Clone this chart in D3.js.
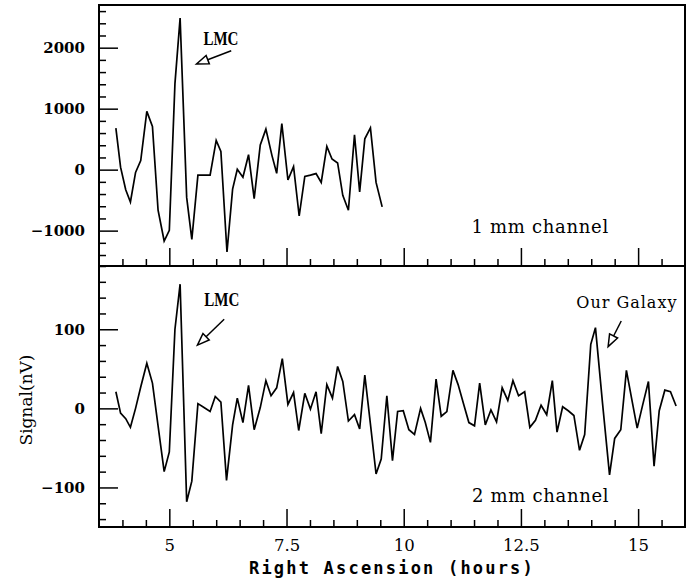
<!DOCTYPE html>
<html>
<head>
<meta charset="utf-8">
<script src="https://cdn.jsdelivr.net/npm/d3@7"></script>
<style>
  body { margin: 0; background: #fff; }
  svg { display: block; }
  .tick line { stroke: #000; stroke-width: 1.5; }
  .tick text { font-family: "DejaVu Serif", serif; font-size: 15px; font-weight: bold; fill: #000; }
  .xaxis .tick text { font-size: 16.5px; font-weight: normal; }
</style>
</head>
<body>
<svg id="chart"></svg>
<script>
// 1 mm channel (hours, nV)
const raTop = [3.86, 3.96, 4.07, 4.17, 4.28, 4.39, 4.52, 4.64, 4.76, 4.89,
  5.00, 5.12, 5.23, 5.37, 5.48, 5.61, 5.74, 5.87, 6.00, 6.10,
  6.23, 6.35, 6.45, 6.57, 6.69, 6.81, 6.94, 7.06, 7.19, 7.29,
  7.40, 7.53, 7.65, 7.77, 7.89, 8.01, 8.13, 8.24, 8.36, 8.47,
  8.59, 8.70, 8.82, 8.95, 9.06, 9.17, 9.29, 9.41, 9.54];
const sigTop = [680, 40, -330, -530, -45, 150, 955, 710, -665, -1170,
  -995, 1410, 2485, -455, -1145, -90, -90, -90, 480, 300,
  -1350, -320, 5, -125, 245, -475, 405, 665, 230, -60,
  755, -170, 50, -760, -110, -90, -65, -210, 380, 175,
  110, -420, -665, 570, -365, 505, 685, -210, -610];

// 2 mm channel (hours, nV)
const raBot = [3.86, 3.96, 4.07, 4.17, 4.28, 4.39, 4.52, 4.64, 4.76, 4.89,
  5.00, 5.12, 5.23, 5.37, 5.48, 5.61, 5.74, 5.87, 5.98, 6.10,
  6.22, 6.35, 6.45, 6.57, 6.69, 6.81, 6.94, 7.06, 7.17, 7.29,
  7.41, 7.53, 7.65, 7.76, 7.89, 8.01, 8.13, 8.24, 8.36, 8.48,
  8.59, 8.70, 8.82, 8.95, 9.06, 9.17, 9.29, 9.41, 9.52, 9.64,
  9.76, 9.87, 9.99, 10.11, 10.23, 10.36, 10.46, 10.57, 10.69, 10.80,
  10.92, 11.05, 11.16, 11.28, 11.39, 11.51, 11.62, 11.74, 11.86, 11.98,
  12.10, 12.22, 12.33, 12.45, 12.58, 12.69, 12.81, 12.93, 13.05, 13.17,
  13.27, 13.39, 13.51, 13.63, 13.75, 13.86, 13.99, 14.09, 14.24, 14.39,
  14.50, 14.63, 14.75, 14.86, 14.98, 15.10, 15.22, 15.34, 15.45, 15.57,
  15.69, 15.81];
const sigBot = [21, -6, -13, -24, 0, 27, 57, 32, -22, -80,
  -55, 100, 157, -118, -92, 6, 1, -4, 15, 8,
  -91, -21, 13, -18, 29, -27, 1, 35, 16, 26,
  63, 5, 20, -28, 19, -1, 21, -32, 30, 13,
  53, 34, -16, -8, -26, 42, -20, -83, -64, 16,
  -66, -4, -3, -27, -33, 0, -18, -43, 37, -10,
  -4, 48, 30, 5, -18, -22, 32, -21, -2, -17,
  26, 10, 35, 16, 21, -24, -15, 4, -8, 35,
  -30, 2, -3, -9, -53, -33, 81, 102, 7, -84,
  -38, -27, 48, 13, -25, 5, 34, -73, -3, 23,
  21, 3];

const xTicks = [5, 7.5, 10, 12.5, 15];
const topTicks = [-1000, 0, 1000, 2000];
const botTicks = [-100, 0, 100];

const width = 689, height = 580;
const plotLeft = 99, plotRight = 685, plotTop = 5, plotMid = 266, plotBottom = 527;

const svg = d3.select("#chart")
    .attr("width", width)
    .attr("height", height);

const x = d3.scaleLinear().domain([3.5, 16]).range([plotLeft, plotRight]);
const yTop = d3.scaleLinear().domain([-1580, 2700]).range([plotMid, plotTop]);
const yBot = d3.scaleLinear().domain([-150, 180]).range([plotBottom, plotMid]);

function drawPanel(y, ys, yMinor, yBase, showLabels, ras, sigs) {
    // minor then major ticks on the left, pointing inward
    svg.append("g")
        .attr("transform", `translate(${plotLeft},0)`)
        .call(d3.axisLeft(y).tickValues(yMinor).tickSize(-7).tickFormat(""))
        .call(g => g.select(".domain").remove());
    svg.append("g")
        .attr("transform", `translate(${plotLeft},0)`)
        .call(d3.axisLeft(y).tickValues(ys).tickSize(-19).tickPadding(14).tickFormat(d3.format("d")))
        .call(g => g.select(".domain").remove());

    const xMinor = d3.range(4, 16, 0.5).filter(v => !xTicks.includes(v));
    svg.append("g")
        .attr("transform", `translate(0,${yBase})`)
        .call(d3.axisBottom(x).tickValues(xMinor).tickSize(-7).tickFormat(""))
        .call(g => g.select(".domain").remove());
    svg.append("g")
        .attr("class", "xaxis")
        .attr("transform", `translate(0,${yBase})`)
        .call(d3.axisBottom(x).tickValues(xTicks).tickSize(-18).tickPadding(12)
            .tickFormat(showLabels ? d3.format("") : ""))
        .call(g => g.select(".domain").remove());

    const line = d3.line()
        .x((d, i) => x(ras[i]))
        .y(d => y(d));
    svg.append("path")
        .datum(sigs)
        .attr("fill", "none")
        .attr("stroke", "#000")
        .attr("stroke-width", 1.7)
        .attr("stroke-linejoin", "miter")
        .attr("d", line);
}

drawPanel(yTop, topTicks, d3.range(-1400, 2700, 200).filter(v => v % 1000 !== 0), plotMid, false, raTop, sigTop);
drawPanel(yBot, botTicks, d3.range(-140, 181, 20).filter(v => v % 100 !== 0), plotBottom, true, raBot, sigBot);

// frame
svg.append("rect")
    .attr("x", plotLeft).attr("y", plotTop)
    .attr("width", plotRight - plotLeft).attr("height", plotBottom - plotTop)
    .attr("fill", "none").attr("stroke", "#000").attr("stroke-width", 2);
svg.append("line")
    .attr("x1", plotLeft).attr("x2", plotRight)
    .attr("y1", plotMid).attr("y2", plotMid)
    .attr("stroke", "#000").attr("stroke-width", 2);

// annotations: text anchor and arrow in data units
const notes = [
    { y: yTop, text: "LMC", ra: 6.10, sig: 2044, from: [6.32, 1951], to: [5.58, 1733], cls: "lmc" },
    { y: yBot, text: "LMC", ra: 6.12, sig: 129, from: [6.17, 112.6], to: [5.60, 80], cls: "lmc" },
    { y: yBot, text: "Our Galaxy", ra: 14.76, sig: 127, from: [14.64, 110.5], to: [14.36, 78], cls: "gal" }
];

notes.forEach(n => {
    const t = svg.append("text")
        .attr("x", x(n.ra))
        .attr("y", n.y(n.sig))
        .attr("text-anchor", "middle")
        .text(n.text);
    if (n.cls === "lmc") {
        t.attr("font-family", "Liberation Serif, serif")
            .attr("font-weight", "bold")
            .attr("font-size", 19)
            .attr("textLength", 35)
            .attr("lengthAdjust", "spacingAndGlyphs");
    } else {
        t.attr("font-family", "DejaVu Serif, serif")
            .attr("font-size", 16)
            .attr("letter-spacing", 1);
    }

    const x0 = x(n.from[0]), y0 = n.y(n.from[1]);
    const x1 = x(n.to[0]), y1 = n.y(n.to[1]);
    const ang = Math.atan2(y1 - y0, x1 - x0);
    const len = 12, half = 4.5;
    const bx = x1 - len * Math.cos(ang), by = y1 - len * Math.sin(ang);
    svg.append("line")
        .attr("x1", x0).attr("y1", y0).attr("x2", bx).attr("y2", by)
        .attr("stroke", "#000").attr("stroke-width", 1.5);
    const head = [
        [x1, y1],
        [bx + half * Math.sin(ang), by - half * Math.cos(ang)],
        [bx - half * Math.sin(ang), by + half * Math.cos(ang)]
    ];
    svg.append("path")
        .attr("d", d3.line()(head) + "Z")
        .attr("fill", "#fff")
        .attr("stroke", "#000")
        .attr("stroke-width", 1.5)
        .attr("stroke-linejoin", "miter");
});

// channel labels
const channels = [
    { y: yTop, text: "1 mm channel", ra: 12.91, sig: -1039 },
    { y: yBot, text: "2 mm channel", ra: 12.92, sig: -118 }
];
svg.selectAll("text.channel")
    .data(channels)
    .join("text")
    .attr("class", "channel")
    .attr("x", d => x(d.ra))
    .attr("y", d => d.y(d.sig))
    .attr("text-anchor", "middle")
    .attr("font-family", "DejaVu Serif, serif")
    .attr("font-size", 18)
    .attr("letter-spacing", 0.7)
    .text(d => d.text);

// axis titles
svg.append("text")
    .attr("transform", "translate(32,400) rotate(-90)")
    .attr("text-anchor", "middle")
    .attr("font-family", "DejaVu Serif, serif")
    .attr("font-size", 17)
    .text("Signal(nV)");

svg.append("text")
    .attr("x", (plotLeft + plotRight) / 2)
    .attr("y", 574)
    .attr("text-anchor", "middle")
    .attr("font-family", "DejaVu Sans Mono, monospace")
    .attr("font-weight", "bold")
    .attr("font-size", 17)
    .attr("letter-spacing", 2.2)
    .text("Right Ascension (hours)");
</script>
</body>
</html>
